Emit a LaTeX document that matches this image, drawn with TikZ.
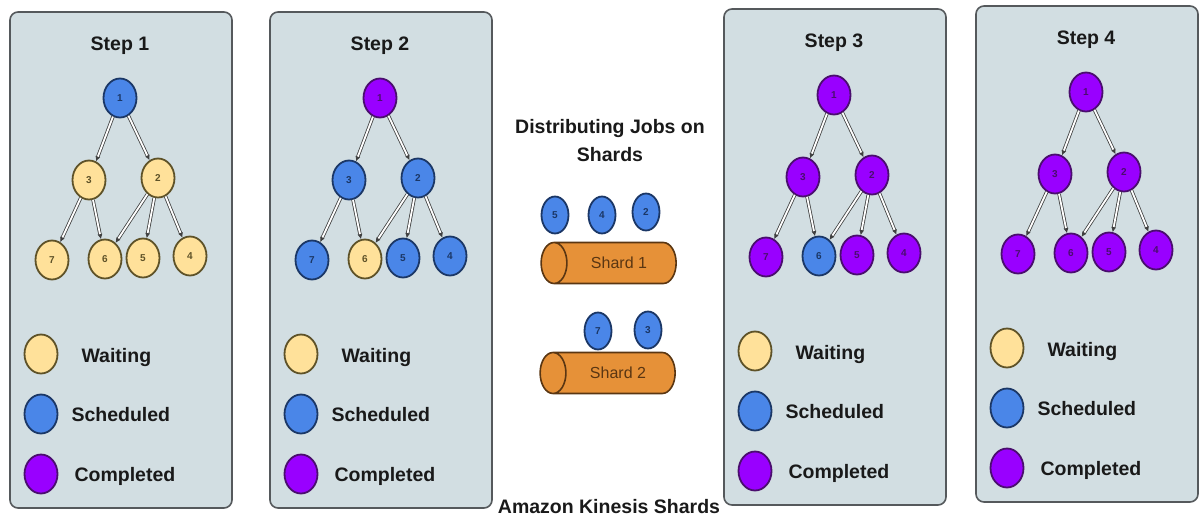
\documentclass[tikz,border=0pt]{standalone}
\usepackage{fontspec}
\setmainfont{Liberation Sans}
\usepackage{tikz}
\usetikzlibrary{positioning,shapes.geometric,arrows.meta}

\definecolor{fondo}{HTML}{D2DEE2}
\definecolor{marco}{HTML}{55595C}
\definecolor{amarillo}{HTML}{FFE19A}
\definecolor{amarilloborde}{HTML}{5E5228}
\definecolor{azul}{HTML}{4A86E8}
\definecolor{azulborde}{HTML}{1B3766}
\definecolor{morado}{HTML}{9900FF}
\definecolor{moradoborde}{HTML}{4A0E6E}
\definecolor{naranja}{HTML}{E69138}
\definecolor{naranjaborde}{HTML}{5A3612}

\begin{document}
\begin{tikzpicture}[
  x=1pt, y=-1pt,
  panel/.style={draw=marco, fill=fondo, line width=1.6pt, rounded corners=8pt},
  titulo/.style={font=\bfseries\fontsize{19.5}{28}\selectfont, text=black!90},
  leyenda/.style={font=\bfseries\fontsize{19.5}{22}\selectfont, text=black!90, anchor=west},
  nodo/.style={ellipse, draw, line width=1.8pt, minimum width=33, minimum height=39,
    inner sep=0pt, font=\bfseries\fontsize{10}{10}\selectfont},
  amarillo/.style={nodo, fill=amarillo, draw=amarilloborde, text=amarilloborde},
  azul/.style={nodo, fill=azul, draw=azulborde, text=azulborde},
  morado/.style={nodo, fill=morado, draw=moradoborde, text=moradoborde},
  tarea/.style={azul, minimum width=27, minimum height=37},
  arista/.style={draw=gray!50!black, double=white, double distance=1.8pt, line width=0.8pt,
    -{Latex[length=5pt,width=5pt]}},
  shard/.style={cylinder, shape border rotate=180, aspect=1.4, draw=naranjaborde,
    line width=1.6pt, cylinder uses custom fill, cylinder body fill=naranja,
    cylinder end fill=naranja, minimum width=41, minimum height=135,
    font=\fontsize{16}{16}\selectfont, text=naranjaborde}
]
  \useasboundingbox (0,0) rectangle (1200,520);

  % the four steps
  \foreach \p/\dx/\dy/\ca/\cb/\cc/\cd/\ce/\cf/\cg in {
    1/0/0/azul/amarillo/amarillo/amarillo/amarillo/amarillo/amarillo,
    2/260/0/morado/azul/azul/azul/azul/amarillo/azul,
    3/714/-3/morado/morado/morado/morado/morado/azul/morado,
    4/966/-6/morado/morado/morado/morado/morado/morado/morado}{
  \begin{scope}[shift={(\dx,\dy)}]
    \draw[panel] (10,12) rectangle (232,508);
    \node[titulo] (t\p) at (120,46) {Step \p};
    \node[\ca] (n\p-1) at (120,98)  {1};
    \node[\cb] (n\p-2) at (158,178) {2};
    \node[\cc] (n\p-3) at (89,180)  {3};
    \node[\cd] (n\p-4) at (190,256) {4};
    \node[\ce] (n\p-5) at (143,258) {5};
    \node[\cf] (n\p-6) at (105,259) {6};
    \node[\cg] (n\p-7) at (52,260)  {7};
    \draw[arista] (n\p-1) -- (n\p-3);
    \draw[arista] (n\p-1) -- (n\p-2);
    \draw[arista] (n\p-3) -- (n\p-7);
    \draw[arista] (n\p-3) -- (n\p-6);
    \draw[arista] (n\p-2) -- (n\p-6);
    \draw[arista] (n\p-2) -- (n\p-5);
    \draw[arista] (n\p-2) -- (n\p-4);
    % legend
    \node[amarillo] (w\p) at (41,354) {};
    \node[azul]     (s\p) at (41,414) {};
    \node[morado]   (c\p) at (41,474) {};
    \node[leyenda] at (78,357) {Waiting};
    \node[leyenda] at (68,415) {Scheduled};
    \node[leyenda] at (71,476) {Completed};
  \end{scope}
  }

  % shards in the middle
  \node[titulo, align=center] (dist) at (610,141) {Distributing Jobs on\\Shards};
  \node[tarea] (j5) at (555,215) {5};
  \node[tarea] (j4) at (602,215) {4};
  \node[tarea] (j2) at (646,212) {2};
  \node[shard] (sh1) at (619,263) {Shard 1};
  \node[tarea] (j7) at (598,331) {7};
  \node[tarea] (j3) at (648,330) {3};
  \node[shard] (sh2) at (618,373) {Shard 2};
  \node[titulo] (kin) at (609,507) {Amazon Kinesis Shards};
\end{tikzpicture}
\end{document}
